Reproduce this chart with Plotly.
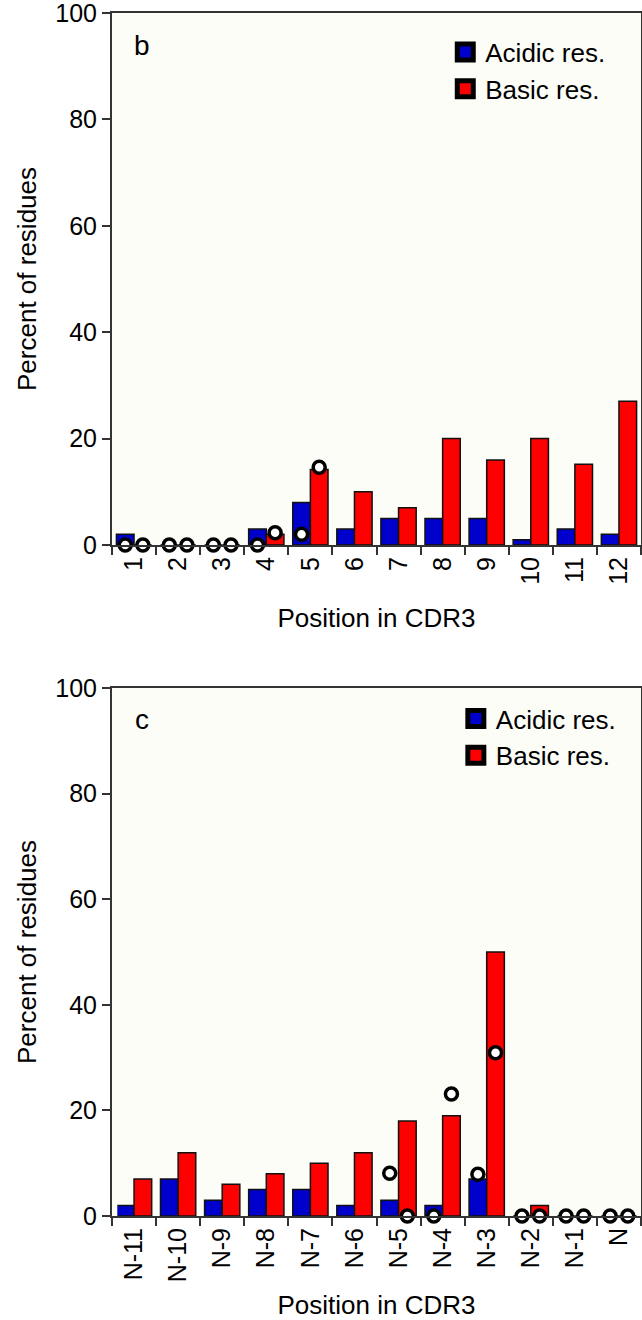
import plotly.graph_objects as go
from plotly.subplots import make_subplots

# ---- data ----
pos_b = ["1", "2", "3", "4", "5", "6", "7", "8", "9", "10", "11", "12"]
acidic_b = [2, 0, 0, 3, 8, 3, 5, 5, 5, 1, 3, 2]
basic_b = [0, 0, 0, 2, 14.2, 10, 7, 20, 16, 20, 15.2, 27]
circ_acidic_b = [0, 0, 0, 0, 2, None, None, None, None, None, None, None]
circ_basic_b = [0, 0, 0, 2.3, 14.6, None, None, None, None, None, None, None]

pos_c = ["N-11", "N-10", "N-9", "N-8", "N-7", "N-6", "N-5", "N-4", "N-3", "N-2", "N-1", "N"]
acidic_c = [2, 7, 3, 5, 5, 2, 3, 2, 7, 0, 0, 0]
basic_c = [7, 12, 6, 8, 10, 12, 18, 19, 50, 2, 0, 0]
circ_acidic_c = [None, None, None, None, None, None, 8.1, 0, 7.9, 0, 0, 0]
circ_basic_c = [None, None, None, None, None, None, 0, 23.1, 30.9, 0, 0, 0]

series_names = ["Acidic res.", "Basic res."]
series_colors = ["#0000CC", "#FF0000"]
panel_labels = ["b", "c"]
y_title = "Percent of residues"
x_title = "Position in CDR3"

FONT = "Liberation Sans, Arial, Helvetica, sans-serif"
AX = "#333333"

fig = make_subplots(rows=2, cols=1, vertical_spacing=0.12)

panels = [
    (pos_b, acidic_b, basic_b, circ_acidic_b, circ_basic_b),
    (pos_c, acidic_c, basic_c, circ_acidic_c, circ_basic_c),
]
for r, (cats, ac, ba, ca, cb) in enumerate(panels, start=1):
    for name, col, vals, grp in [(series_names[0], series_colors[0], ac, "a"),
                                 (series_names[1], series_colors[1], ba, "b")]:
        fig.add_trace(go.Bar(x=cats, y=vals, name=name, marker=dict(color=col, line=dict(color="#111111", width=1.5)),
                             offsetgroup=grp, showlegend=False), row=r, col=1)
    for vals, grp in [(ca, "a"), (cb, "b")]:
        fig.add_trace(go.Scatter(x=cats, y=vals, mode="markers", offsetgroup=grp,
                                 marker=dict(symbol="circle", size=12, color="white",
                                             line=dict(color="black", width=3.5)),
                                 cliponaxis=False, showlegend=False), row=r, col=1)

# legend-only entries on a hidden axis pair
for lg in ["legend", "legend2"]:
    for i, (name, col) in enumerate(zip(series_names, series_colors)):
        fig.add_trace(go.Scatter(x=[None], y=[None], mode="markers", name=name,
                                 marker=dict(symbol="square", size=16, color=col,
                                             line=dict(color="black", width=5)),
                                 legend=lg, legendgroup=(lg + str(i)) if lg == "legend" else lg,
                                 xaxis="x3", yaxis="y3"))

fig.update_layout(
    width=642, height=1320,
    margin=dict(l=112, r=1, t=13, b=104, autoexpand=False),
    paper_bgcolor="white", plot_bgcolor="#FDFDF8",
    font=dict(family=FONT, size=25, color="black"),
    barmode="group", bargap=0.2, bargroupgap=0,
    scattermode="group", scattergap=0.2,
    xaxis3=dict(visible=False, domain=[0, 0.01], anchor="y3"),
    yaxis3=dict(visible=False, domain=[0, 0.01], anchor="x3"),
    legend=dict(x=0.63, y=0.987, xanchor="left", yanchor="top", bgcolor="rgba(0,0,0,0)",
                font=dict(size=26), tracegroupgap=0, traceorder="grouped"),
    legend2=dict(x=0.65, y=0.433, xanchor="left", yanchor="top", bgcolor="rgba(0,0,0,0)",
                 font=dict(size=26), traceorder="normal"),
    showlegend=True,
)

top_dom = [(1216 - 545) / 1203, 1.0]
bot_dom = [0.0, (1216 - 688) / 1203]
for r, dom, st in [(1, top_dom, 25), (2, bot_dom, 43)]:
    fig.update_yaxes(domain=dom, range=[0, 100], dtick=20, showgrid=False, zeroline=False,
                     showline=True, linecolor=AX, linewidth=2, mirror=True,
                     ticks="outside", ticklen=8, tickwidth=2, tickcolor=AX,
                     tickfont=dict(size=25), automargin=False, ticklabeloverflow="allow",
                     title=dict(text=y_title, font=dict(size=26), standoff=11),
                     row=r, col=1)
    fig.update_xaxes(showgrid=False, zeroline=False, showline=True, linecolor=AX, linewidth=2,
                     mirror=True, ticks="outside", ticklen=8, tickwidth=2, tickcolor=AX,
                     tickson="boundaries", tickangle=-90, tickfont=dict(size=25), automargin=False,
                     ticklabeloverflow="allow",
                     title=dict(text=x_title, font=dict(size=26), standoff=st),
                     row=r, col=1)

for r, lab in enumerate(panel_labels, start=1):
    xref = "x domain" if r == 1 else "x2 domain"
    yref = "y domain" if r == 1 else "y2 domain"
    fig.add_annotation(text=lab, x=0.057, y=0.938 if r == 1 else 0.94, xref=xref, yref=yref,
                       showarrow=False, font=dict(size=28, family=FONT), xanchor="center", yanchor="middle")

fig.write_html("out.html", config={"displayModeBar": False},
               post_script="document.body.style.margin='0';")
